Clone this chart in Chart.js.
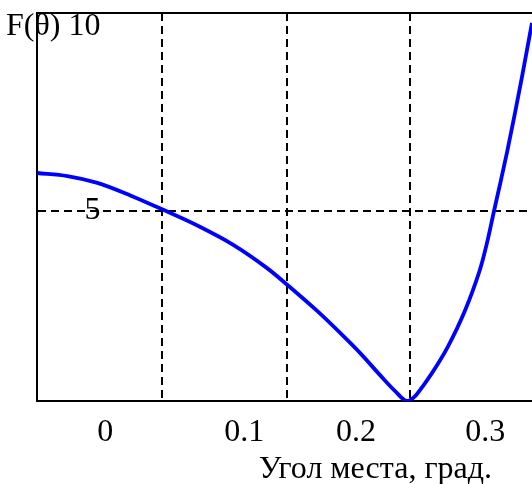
<!DOCTYPE html>
<html>
<head>
<meta charset="utf-8">
<script src="https://cdn.jsdelivr.net/npm/chart.js@4"></script>
<style>
  body { margin: 0; background: #fff; }
</style>
</head>
<body>
<canvas id="chart" width="532" height="484"></canvas>
<script>
// values (x in degrees, F(θ) unitless)
const angles = [-0.0537, -0.0300, -0.0063, 0.0197, 0.0458, 0.075, 0.101, 0.128, 0.1429, 0.1673, 0.1855, 0.2013, 0.2170, 0.2289, 0.2384,
  0.2447, 0.2510, 0.2581, 0.2644, 0.2707, 0.2778, 0.2841, 0.2905, 0.2968, 0.3023, 0.3070, 0.3118, 0.3173, 0.3228, 0.3291, 0.3370];
const fValues = [6.0, 5.92, 5.74, 5.41, 5.03, 4.58, 4.11, 3.49, 3.08, 2.37, 1.79, 1.26, 0.68, 0.26, 0.0,
  0.13, 0.40, 0.74, 1.07, 1.44, 1.91, 2.38, 2.93, 3.56, 4.28, 5.0, 5.71, 6.55, 7.45, 8.53, 9.95];

// dashed grid lines (Mathcad markers)
const xGridLines = [0.045, 0.1436, 0.2407];
const yGridLines = [5];

// tick labels and where they sit on the axis
const xTickLabels = ["0", "0.1", "0.2", "0.3"];
const xTickPositions = [0, 0.1097, 0.198, 0.3];
const yTickLabels = ["", "5", "F(θ) 10"];
const yTickPositions = [0, 5, 9.85];

const xTitle = "Угол места, град.";
const font = "Liberation Serif";
const fontSize = 32;

const points = angles.map((a, i) => ({ x: a, y: fValues[i] }));

// x axis title sits right of centre, so draw it by hand
const xTitlePlugin = {
  id: "xTitle",
  afterDraw(chart) {
    const ctx = chart.ctx;
    ctx.save();
    ctx.font = fontSize + "px '" + font + "'";
    ctx.fillStyle = "#000";
    ctx.textAlign = "right";
    ctx.textBaseline = "alphabetic";
    ctx.fillText(xTitle, chart.chartArea.right - 40, 478);
    ctx.restore();
  },
};

new Chart(document.getElementById("chart"), {
  type: "line",
  data: {
    datasets: [
      {
        data: points,
        borderColor: "#0000ff",
        borderWidth: 3.8,
        pointRadius: 0,
        fill: false,
        cubicInterpolationMode: "monotone",
      },
    ],
  },
  options: {
    responsive: false,
    animation: false,
    layout: { padding: { top: 13, right: 0, left: 0, bottom: 0 } },
    plugins: { legend: { display: false }, tooltip: { enabled: false } },
    scales: {
      x: {
        type: "linear",
        min: -0.054,
        max: 0.337,
        afterBuildTicks: (s) => {
          s.ticks = xGridLines.concat(xTickPositions).map((v) => ({ value: v }));
        },
        afterFit: (s) => {
          s.height = 83;
        },
        ticks: {
          padding: 12,
          color: "#000",
          font: { family: font, size: fontSize },
          maxRotation: 0,
          autoSkip: false,
          callback: (v) => {
            const i = xTickPositions.indexOf(v);
            return i >= 0 ? xTickLabels[i] : "";
          },
        },
        grid: {
          drawTicks: false,
          lineWidth: 2,
          color: (c) => (c.tick && xGridLines.includes(c.tick.value) ? "#000" : "rgba(0,0,0,0)"),
        },
        border: { display: true, color: "#000", width: 2, dash: [8, 5] },
      },
      xTop: {
        type: "linear",
        position: "top",
        min: -0.054,
        max: 0.337,
        afterFit: (s) => {
          s.height = 0;
        },
        ticks: { display: false },
        grid: { display: false },
        border: { display: true, color: "#000", width: 2 },
      },
      y: {
        min: 0,
        max: 10.21,
        afterBuildTicks: (s) => {
          s.ticks = yTickPositions.map((v) => ({ value: v }));
        },
        afterFit: (s) => {
          s.width = 37;
        },
        ticks: {
          mirror: true,
          crossAlign: "far",
          padding: -31,
          color: "#000",
          font: { family: font, size: fontSize },
          callback: (v) => yTickLabels[yTickPositions.indexOf(v)],
        },
        grid: {
          drawTicks: false,
          lineWidth: 2,
          color: (c) => (c.tick && yGridLines.includes(c.tick.value) ? "#000" : "rgba(0,0,0,0)"),
        },
        border: { display: true, color: "#000", width: 2, dash: [8, 5] },
      },
    },
  },
  plugins: [xTitlePlugin],
});
</script>
</body>
</html>
